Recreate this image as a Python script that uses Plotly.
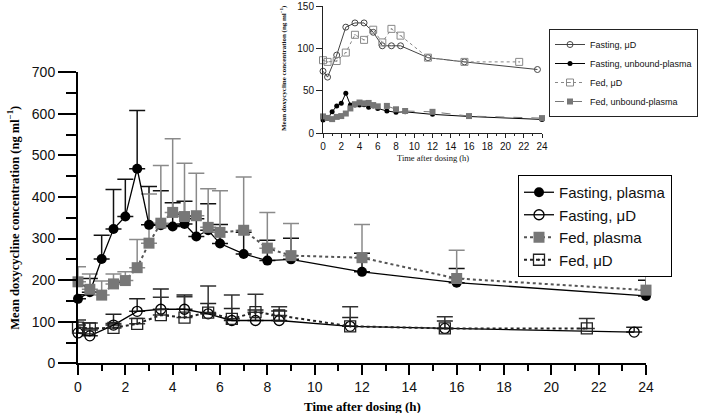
import plotly.graph_objects as go

# ---------------- data (main panel) ----------------
fast_plasma_t = [0, 0.5, 1, 1.5, 2, 2.5, 3, 3.5, 4, 4.5, 5, 5.5, 6, 7, 8, 9, 12, 16, 24]
fast_plasma = [155, 171, 251, 323, 353, 468, 333, 332, 329, 335, 305, 320, 288, 263, 247, 250, 220, 194, 162]
fast_plasma_sd = [10, 33, 57, 95, 90, 140, 92, 83, 57, 55, 43, 64, 46, 52, 49, 51, 45, 34, 38]

fed_plasma_t = [0, 0.5, 1, 1.5, 2, 2.5, 3, 3.5, 4, 4.5, 5, 5.5, 6, 7, 8, 9, 12, 16, 24]
fed_plasma = [196, 178, 164, 191, 199, 230, 289, 337, 363, 353, 355, 327, 315, 320, 277, 259, 254, 204, 176]
fed_plasma_sd = [36, 37, 34, 24, 21, 68, 118, 139, 177, 128, 102, 93, 100, 128, 86, 77, 80, 68, 51]

fast_ud_t = [0, 0.5, 1.5, 2.5, 3.5, 4.5, 5.5, 6.5, 7.5, 8.5, 11.5, 15.5, 23.5]
fast_ud = [73, 66, 92, 125, 130, 130, 119, 103, 103, 103, 89, 84, 75]
fast_ud_sd = [19, 14, 26, 30, 49, 34, 25, 29, 25, 23, 21, 18, 12]

fed_ud_t = [0, 0.5, 1.5, 2.5, 3.5, 4.5, 5.5, 6.5, 7.5, 8.5, 11.5, 15.5, 21.5]
fed_ud = [86, 84, 85, 95, 116, 110, 122, 107, 123, 115, 89, 84, 84]
fed_ud_sd = [18, 13, 11, 13, 43, 50, 64, 57, 43, 21, 47, 28, 24]

# ---------------- data (inset) ----------------
fast_unbound_t = [0, 0.5, 1, 1.5, 2, 2.5, 3, 3.5, 4, 4.5, 5, 5.5, 6, 7, 8, 9, 12, 16, 24]
fast_unbound = [15.5, 17, 25, 32, 35, 47, 33, 33, 33, 33.5, 30.5, 32, 29, 26, 24.5, 25, 22, 19.5, 16]
fed_unbound_t = [0, 0.5, 1, 1.5, 2, 2.5, 3, 3.5, 4, 4.5, 5, 5.5, 6, 7, 8, 9, 12, 16, 24]
fed_unbound = [19.6, 17.8, 16.4, 19, 20, 23, 29, 34, 36, 35, 35.5, 33, 31.5, 32, 28, 26, 25, 20, 17.6]

main_xticks = list(range(0, 25, 2))
main_yticks = list(range(0, 701, 100))
inset_yticks = [0, 50, 100, 150]

SANS = "Liberation Sans, Arial, sans-serif"
SERIF = "Liberation Serif, Times New Roman, serif"

fig = go.Figure()


def err_trace(x, y, sd, color):
    # upper-only error bars drawn as their own trace (kept out of the legend)
    return go.Scatter(
        x=x, y=y, mode="markers", showlegend=False, hoverinfo="skip", cliponaxis=False,
        marker=dict(size=1, color="rgba(0,0,0,0)"),
        error_y=dict(type="data", array=sd, arrayminus=[0] * len(sd), symmetric=False,
                     color=color, thickness=1.5, width=8),
        xaxis="x", yaxis="y")


# ---- main panel: error bars ----
fig.add_trace(err_trace(fast_plasma_t, fast_plasma, fast_plasma_sd, "#111111"))
fig.add_trace(err_trace(fed_plasma_t, fed_plasma, fed_plasma_sd, "#8a8a8a"))
fig.add_trace(err_trace(fast_ud_t, fast_ud, fast_ud_sd, "#222222"))
fig.add_trace(err_trace(fed_ud_t, fed_ud, fed_ud_sd, "#333333"))

# ---- main panel: series ----
fig.add_trace(go.Scatter(
    x=fast_plasma_t, y=fast_plasma, name="Fasting, plasma", legendrank=1,
    mode="lines+markers", cliponaxis=False,
    line=dict(color="black", width=1.3),
    marker=dict(symbol="circle", size=10, color="black"),
    xaxis="x", yaxis="y", legend="legend"))

fig.add_trace(go.Scatter(
    x=fed_plasma_t, y=fed_plasma, name="Fed, plasma", legendrank=3,
    mode="lines+markers", cliponaxis=False,
    line=dict(color="#555555", width=2, dash="dot"),
    marker=dict(symbol="square", size=11, color="#777777"),
    xaxis="x", yaxis="y", legend="legend"))

fig.add_trace(go.Scatter(
    x=fast_ud_t, y=fast_ud, name="Fasting, μD", legendrank=2,
    mode="lines+markers", cliponaxis=False,
    line=dict(color="black", width=1.3),
    marker=dict(symbol="circle-open", size=10, color="black", line=dict(width=1.3)),
    xaxis="x", yaxis="y", legend="legend"))

fig.add_trace(go.Scatter(
    x=fed_ud_t, y=fed_ud, name="Fed, μD", legendrank=4,
    mode="lines+markers", cliponaxis=False,
    line=dict(color="#222222", width=2, dash="dot"),
    marker=dict(symbol="square-open-dot", size=11, color="#222222", line=dict(width=1.3)),
    xaxis="x", yaxis="y", legend="legend"))

# ---- inset ----
fig.add_trace(go.Scatter(
    x=fast_ud_t, y=fast_ud, name="Fasting, μD", mode="lines+markers", cliponaxis=False,
    line=dict(color="#444444", width=1), marker=dict(symbol="circle-open", size=6, color="#444444"),
    xaxis="x2", yaxis="y2", legend="legend2"))
fig.add_trace(go.Scatter(
    x=fast_unbound_t, y=fast_unbound, name="Fasting, unbound-plasma", mode="lines+markers",
    cliponaxis=False, line=dict(color="black", width=1), marker=dict(symbol="circle", size=5, color="black"),
    xaxis="x2", yaxis="y2", legend="legend2"))
fig.add_trace(go.Scatter(
    x=fed_ud_t, y=fed_ud, name="Fed, μD", mode="lines+markers", cliponaxis=False,
    line=dict(color="#888888", width=1, dash="dot"),
    marker=dict(symbol="square-open-dot", size=7, color="#888888"),
    xaxis="x2", yaxis="y2", legend="legend2"))
fig.add_trace(go.Scatter(
    x=fed_unbound_t, y=fed_unbound, name="Fed, unbound-plasma", mode="lines+markers",
    cliponaxis=False, line=dict(color="#777777", width=1, dash="dash"),
    marker=dict(symbol="square", size=6, color="#777777"),
    xaxis="x2", yaxis="y2", legend="legend2"))

W, H = 709, 413
fig.update_layout(
    width=W, height=H, margin=dict(l=0, r=0, t=0, b=0, autoexpand=False),
    paper_bgcolor="white", plot_bgcolor="rgba(0,0,0,0)",
    font=dict(family=SANS, color="black"),
    xaxis=dict(domain=[78 / W, 646 / W], range=[0, 24], tickvals=main_xticks, automargin=False,
               showline=True, linewidth=2, linecolor="black", ticks="outside",
               ticklen=10, tickwidth=2, tickcolor="black", showgrid=False, zeroline=False,
               minor=dict(dtick=1, ticklen=6, tickwidth=2, tickcolor="black", ticks="outside", showgrid=False),
               tickfont=dict(size=14, family=SANS, color="#111111"), anchor="y"),
    yaxis=dict(domain=[(H - 363.3) / H, (H - 72.3) / H], range=[0, 700], tickvals=main_yticks,
               automargin=False,
               showline=True, linewidth=2, linecolor="black", ticks="outside",
               ticklen=18, tickwidth=2, tickcolor="black", showgrid=False, zeroline=False,
               minor=dict(dtick=50, ticklen=10, tickwidth=2, tickcolor="black", ticks="outside", showgrid=False),
               tickfont=dict(size=14, family=SANS, color="#111111"), anchor="x"),
    xaxis2=dict(domain=[323 / W, 542 / W], range=[0, 24], tickvals=main_xticks, automargin=False,
                showline=True, linewidth=1, linecolor="#222222", ticks="outside",
                ticklen=4, tickwidth=1, tickcolor="#222222", showgrid=False, zeroline=False,
                minor=dict(dtick=1, ticklen=2, tickwidth=1, tickcolor="#222222", ticks="outside", showgrid=False),
                tickfont=dict(size=10, family=SANS, color="#111111"), anchor="y2"),
    yaxis2=dict(domain=[(H - 133) / H, (H - 6) / H], range=[0, 150], tickvals=inset_yticks,
                automargin=False,
                showline=True, linewidth=1, linecolor="#222222", ticks="outside",
                ticklen=6, tickwidth=1, tickcolor="#222222", showgrid=False, zeroline=False,
                tickfont=dict(size=10, family=SANS, color="#111111"), anchor="x2"),
    legend=dict(x=518 / W, y=(H - 175) / H, xanchor="left", yanchor="top",
                bgcolor="white", bordercolor="black", borderwidth=1,
                font=dict(size=15, family=SANS, color="#111111"), tracegroupgap=0,
                traceorder="normal"),
    legend2=dict(x=698 / W, y=(H - 29) / H, xanchor="right", yanchor="top",
                 bgcolor="white", bordercolor="#222222", borderwidth=1,
                 font=dict(size=9, family=SANS, color="#111111"), tracegroupgap=0),
    annotations=[
        dict(text="Mean doxycycline concentration (ng ml<sup>−1</sup>)", textangle=-90,
             x=13 / W, y=(H - 217.7) / H, xref="paper", yref="paper", showarrow=False,
             xanchor="center", yanchor="middle",
             font=dict(family=SERIF, size=12.5, weight="bold", color="black")),
        dict(text="Time after dosing (h)", x=362 / W, y=(H - 406) / H, xref="paper", yref="paper",
             showarrow=False, xanchor="center", yanchor="middle",
             font=dict(family=SERIF, size=13, weight="bold", color="black")),
        dict(text="Mean doxycycline concentration (ng ml<sup>−1</sup>)", textangle=-90,
             x=283 / W, y=(H - 68) / H, xref="paper", yref="paper", showarrow=False,
             xanchor="center", yanchor="middle",
             font=dict(family=SERIF, size=7, weight="bold", color="#111111")),
        dict(text="Time after dosing (h)", x=432.5 / W, y=(H - 158) / H, xref="paper", yref="paper",
             showarrow=False, xanchor="center", yanchor="middle",
             font=dict(family=SERIF, size=8.5, color="#111111")),
    ],
)

fig.write_html("out.html", config={"displayModeBar": False},
               post_script="document.body.style.margin='0';document.body.style.overflow='hidden';")
